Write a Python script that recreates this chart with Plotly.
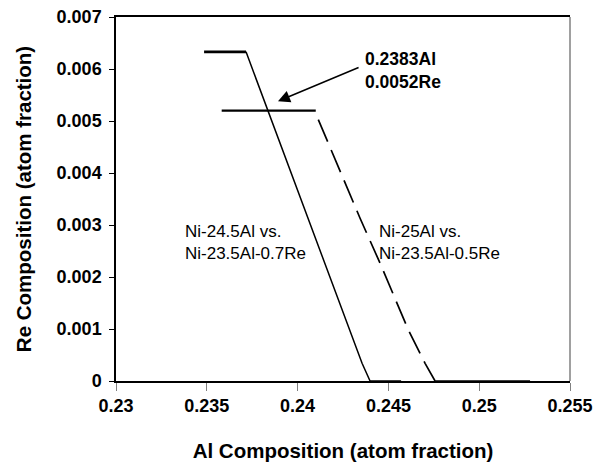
import plotly.graph_objects as go

# Solid series: Ni-24.5Al vs. Ni-23.5Al-0.7Re
solid_x = [0.23485, 0.23716, 0.23837, 0.24285, 0.24355, 0.24399, 0.2457]
solid_y = [0.00633, 0.00633, 0.0052, 0.00098, 0.00034, 0.0, 0.0]

# Dashed series: Ni-25Al vs. Ni-23.5Al-0.5Re
dash_flat_x = [0.23582, 0.2410]
dash_flat_y = [0.0052, 0.0052]
dash_x = [0.24114, 0.24344, 0.24454, 0.24610, 0.24702, 0.24757]
dash_y = [0.005027, 0.00313, 0.002266, 0.00098, 0.00034, 0.0]
dash_zero_x = [0.24757, 0.2528]
dash_zero_y = [0.0, 0.0]

x_ticks = [0.23, 0.235, 0.24, 0.245, 0.25, 0.255]
x_ticklabels = ["0.23", "0.235", "0.24", "0.245", "0.25", "0.255"]
y_ticks = [0, 0.001, 0.002, 0.003, 0.004, 0.005, 0.006, 0.007]
y_ticklabels = ["0", "0.001", "0.002", "0.003", "0.004", "0.005", "0.006", "0.007"]

intersect_label = "0.2383Al<br>0.0052Re"
label_a = "Ni-24.5Al vs.<br>Ni-23.5Al-0.7Re"
label_b = "Ni-25Al vs.<br>Ni-23.5Al-0.5Re"

FONT = "Arial, Liberation Sans, sans-serif"

fig = go.Figure()
fig.add_trace(go.Scatter(x=solid_x[:2], y=solid_y[:2], mode="lines",
                         line=dict(color="black", width=2.6), showlegend=False))
fig.add_trace(go.Scatter(x=solid_x[1:], y=solid_y[1:], mode="lines",
                         line=dict(color="black", width=1.5), showlegend=False))
fig.add_trace(go.Scatter(x=dash_flat_x, y=dash_flat_y, mode="lines",
                         line=dict(color="black", width=2.2), showlegend=False))
fig.add_trace(go.Scatter(x=dash_x, y=dash_y, mode="lines",
                         line=dict(color="black", width=1.7, dash="24px,9px"), showlegend=False))
fig.add_trace(go.Scatter(x=dash_zero_x, y=dash_zero_y, mode="lines",
                         line=dict(color="black", width=1.7), showlegend=False))

fig.add_annotation(x=0.2436, y=0.00597, xref="x", yref="y", text=intersect_label,
                   showarrow=False, xanchor="left", yanchor="middle", align="left",
                   font=dict(family=FONT, size=17.5, color="black", weight="bold"))
fig.add_annotation(x=0.23892, y=0.00538, ax=0.24344, ay=0.006042, xref="x", yref="y",
                   axref="x", ayref="y", text="", showarrow=True, arrowhead=2,
                   arrowsize=1.6, arrowwidth=1.5, arrowcolor="black")
fig.add_annotation(x=0.23369, y=0.002657, xref="x", yref="y", text=label_a,
                   showarrow=False, xanchor="left", yanchor="middle", align="left",
                   font=dict(family=FONT, size=17, color="black"))
fig.add_annotation(x=0.24436, y=0.002657, xref="x", yref="y", text=label_b,
                   showarrow=False, xanchor="left", yanchor="middle", align="left",
                   font=dict(family=FONT, size=17, color="black"))

fig.add_shape(type="line", xref="paper", yref="paper", x0=1, x1=1, y0=0, y1=1,
              line=dict(color="#808080", width=1.5))

fig.update_layout(
    width=605, height=462,
    margin=dict(l=116, r=35, t=17, b=81),
    plot_bgcolor="white", paper_bgcolor="white",
    font=dict(family=FONT, color="black"),
    xaxis=dict(range=[0.23, 0.255], tickvals=x_ticks, ticktext=x_ticklabels,
               automargin=False,
               showgrid=False, zeroline=False, showline=True, linecolor="black",
               linewidth=1.5, mirror=True, ticks="outside", ticklen=8,
               tickcolor="#808080", tickwidth=1,
               tickfont=dict(family=FONT, size=18, weight="bold"),
               title=dict(text="Al Composition (atom fraction)", standoff=29,
                          font=dict(family=FONT, size=20.5, weight="bold"))),
    yaxis=dict(range=[0, 0.007], tickvals=y_ticks, ticktext=y_ticklabels,
               automargin=False,
               showgrid=False, zeroline=False, showline=True, linecolor="black",
               linewidth=1.5, ticks="outside", ticklen=5, tickcolor="black",
               tickwidth=1, ticklabelstandoff=4,
               tickfont=dict(family=FONT, size=18, weight="bold"),
               title=dict(text="Re Composition (atom fraction)", standoff=19,
                          font=dict(family=FONT, size=20.5, weight="bold"))),
)

fig.write_html("out.html")
